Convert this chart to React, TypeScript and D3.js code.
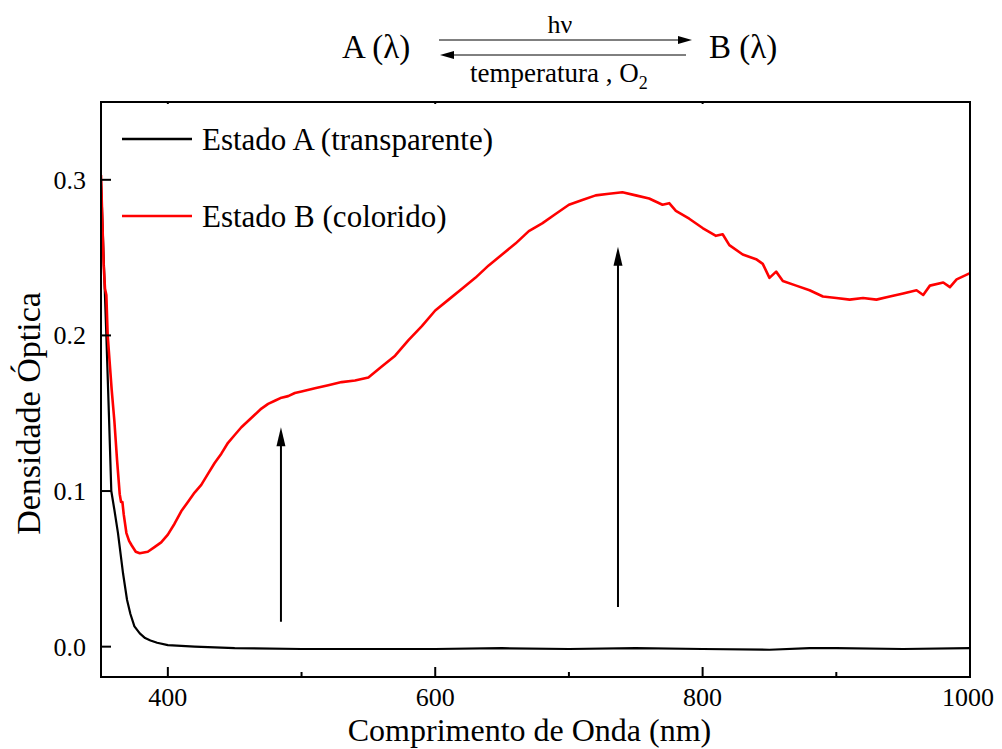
import * as d3 from 'd3'

// wavelength (nm) / optical density
const waveA = [350, 352, 354, 356, 357.7, 360, 362.7, 366.5, 369.5, 372, 375, 379, 383, 387, 392, 400, 420, 450, 500, 550, 600, 650, 700, 750, 800, 850, 880, 900, 950, 1000]
const odA = [0.3, 0.25, 0.2, 0.147, 0.1, 0.088, 0.073, 0.047, 0.03, 0.021, 0.013, 0.0085, 0.0055, 0.004, 0.0025, 0.001, 0, -0.001, -0.0015, -0.0015, -0.0015, -0.001, -0.0015, -0.001, -0.0015, -0.002, -0.001, -0.001, -0.0015, -0.001]

const waveB = [350, 352, 353, 354, 355, 358, 360, 362, 364, 365, 366, 367, 369, 371, 373, 376, 379, 385, 390, 395, 400, 405, 410, 415, 420, 425, 430, 435, 440, 445, 450, 455, 460, 465, 470, 475, 480, 485, 490, 495, 500, 510, 520, 530, 540, 550, 560, 570, 580, 590, 600, 610, 620, 630, 640, 650, 660, 670, 680, 690, 700, 710, 720, 730, 740, 750, 760, 770, 775, 780, 790, 800, 810, 815, 820, 830, 840, 845, 850, 855, 860, 870, 880, 890, 900, 910, 920, 930, 940, 950, 960, 965, 970, 980, 985, 990, 1000]
const odB = [0.303, 0.245, 0.23, 0.226, 0.2, 0.165, 0.145, 0.12, 0.098, 0.093, 0.093, 0.085, 0.073, 0.068, 0.065, 0.061, 0.06, 0.061, 0.064, 0.067, 0.072, 0.079, 0.087, 0.093, 0.099, 0.104, 0.111, 0.118, 0.124, 0.131, 0.136, 0.141, 0.145, 0.149, 0.153, 0.156, 0.158, 0.16, 0.161, 0.163, 0.164, 0.166, 0.168, 0.17, 0.171, 0.173, 0.18, 0.187, 0.197, 0.206, 0.216, 0.223, 0.23, 0.237, 0.245, 0.252, 0.259, 0.267, 0.272, 0.278, 0.284, 0.287, 0.29, 0.291, 0.292, 0.29, 0.288, 0.284, 0.285, 0.28, 0.275, 0.269, 0.264, 0.265, 0.258, 0.252, 0.249, 0.246, 0.237, 0.241, 0.235, 0.232, 0.229, 0.225, 0.224, 0.223, 0.224, 0.223, 0.225, 0.227, 0.229, 0.226, 0.232, 0.234, 0.231, 0.236, 0.24]

const xMajor = [400, 600, 800, 1000]
const xMinor = [500, 700, 900]
const yMajor = [0, 0.1, 0.2, 0.3]

// arrows inside the plot: [wavelength, from, to]
const arrows = [
  [484.6, 0.016, 0.141],
  [736.7, 0.0255, 0.257],
]

const legendItems = [
  { label: 'Estado A (transparente)', color: '#000' },
  { label: 'Estado B (colorido)', color: '#ff0000' },
]

const font = '"Liberation Serif", "Times New Roman", serif'

export default function App() {
  const width = 1002
  const height = 749
  const left = 101, right = 970, top = 102, bottom = 677

  const x = d3.scaleLinear().domain([350, 1000]).range([left, right])
  const y = d3.scaleLinear().domain([-0.0195, 0.35]).range([bottom, top])

  const line = d3
    .line<[number, number]>()
    .x((d) => x(d[0]))
    .y((d) => y(d[1]))

  const ptsA = waveA.map((w, i) => [w, odA[i]] as [number, number])
  const ptsB = waveB.map((w, i) => [w, odB[i]] as [number, number])

  return (
    <svg width={width} height={height} style={{ position: 'absolute', left: 0, top: 0, background: '#fff' }} fontFamily={font}>
      <defs>
        <clipPath id="plot">
          <rect x={left} y={top} width={right - left} height={bottom - top} />
        </clipPath>
      </defs>

      {/* reaction scheme */}
      <text x={342} y={58} fontSize={33}>A (λ)</text>
      <text x={709} y={58} fontSize={33}>B (λ)</text>
      <text x={560} y={33} fontSize={26} textAnchor="middle">hν</text>
      <line x1={439} x2={680} y1={40} y2={40} stroke="#000" strokeWidth={1} />
      <path d="M692,40 L678,36 L678,44 Z" fill="#000" />
      <line x1={452} x2={686} y1={55} y2={55} stroke="#000" strokeWidth={1} />
      <path d="M440,55 L454,51 L454,59 Z" fill="#000" />
      <text x={470} y={82} fontSize={27}>
        temperatura , O<tspan fontSize={18} dy={7}>2</tspan>
      </text>

      {/* data */}
      <g clipPath="url(#plot)">
        <path d={line(ptsA) ?? ''} fill="none" stroke="#000" strokeWidth={2.2} strokeLinejoin="round" />
        <path d={line(ptsB) ?? ''} fill="none" stroke="#ff0000" strokeWidth={2.6} strokeLinejoin="round" />
      </g>

      {arrows.map(([w, y0, y1], i) => (
        <g key={i}>
          <line x1={x(w)} x2={x(w)} y1={y(y0)} y2={y(y1) + 16} stroke="#000" strokeWidth={2} />
          <path d={`M${x(w)},${y(y1)} L${x(w) - 4.5},${y(y1) + 19} L${x(w) + 4.5},${y(y1) + 19} Z`} fill="#000" />
        </g>
      ))}

      {/* frame */}
      <rect x={left} y={top} width={right - left} height={bottom - top} fill="none" stroke="#000" strokeWidth={2} />

      {xMajor.map((v) => (
        <g key={'xm' + v}>
          <line x1={x(v)} x2={x(v)} y1={bottom} y2={bottom - 10} stroke="#000" strokeWidth={2} />
          <line x1={x(v)} x2={x(v)} y1={top} y2={top + 2} stroke="#000" strokeWidth={2} />
          <text x={v === 1000 ? x(v) - 2 : x(v)} y={706} fontSize={26} textAnchor="middle">{v}</text>
        </g>
      ))}
      {xMinor.map((v) => (
        <line key={'xn' + v} x1={x(v)} x2={x(v)} y1={bottom} y2={bottom - 5} stroke="#000" strokeWidth={2} />
      ))}
      {yMajor.map((v) => (
        <g key={'ym' + v}>
          <line x1={left} x2={left + 10} y1={y(v)} y2={y(v)} stroke="#000" strokeWidth={2} />
          <text x={86} y={y(v) + 9} fontSize={26} textAnchor="end">{v.toFixed(1)}</text>
        </g>
      ))}

      <text x={(left + right) / 2 - 6} y={741} fontSize={32} textAnchor="middle">Comprimento de Onda (nm)</text>
      <text transform={`translate(40,${(top + bottom) / 2 + 24}) rotate(-90)`} fontSize={34} textAnchor="middle">Densidade Óptica</text>

      {/* legend */}
      {legendItems.map((it, i) => (
        <g key={it.label} transform={`translate(0,${139 + i * 77})`}>
          <line x1={122} x2={192} y1={0} y2={0} stroke={it.color} strokeWidth={2.6} />
          <text x={202} y={11} fontSize={31}>{it.label}</text>
        </g>
      ))}
    </svg>
  )
}
